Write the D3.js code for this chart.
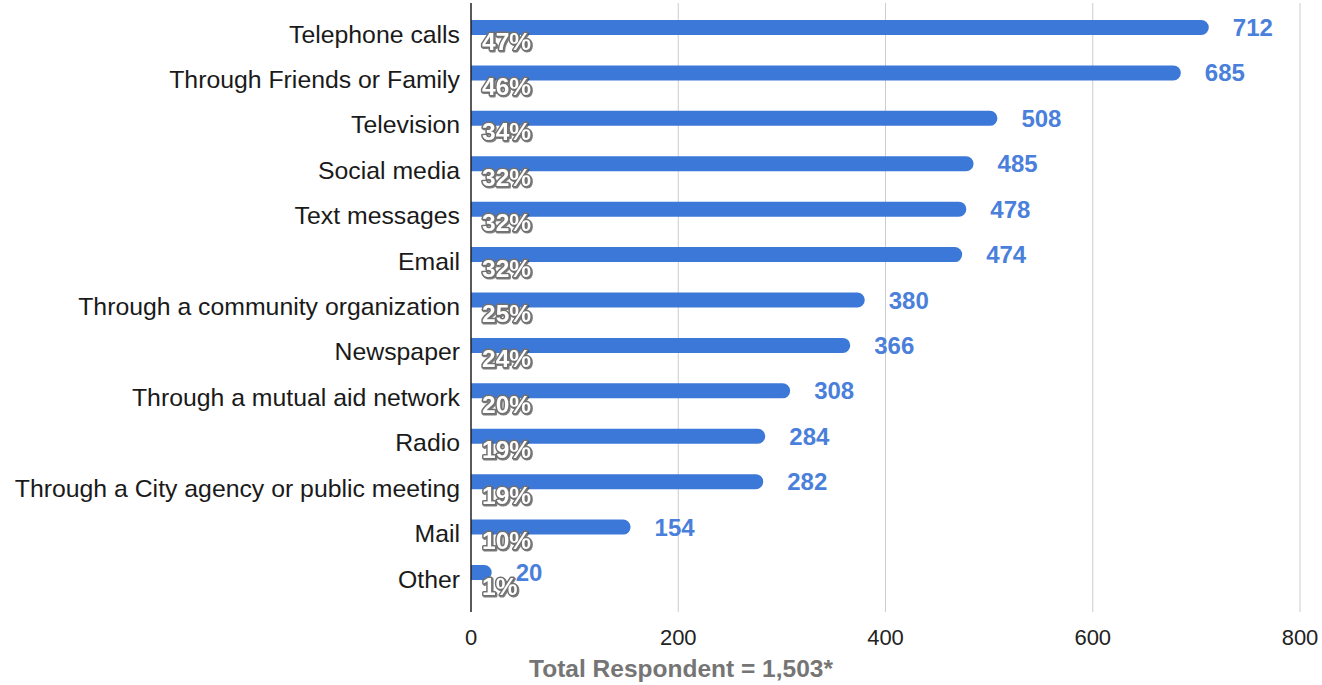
<!DOCTYPE html>
<html>
<head>
<meta charset="utf-8">
<script src="https://cdn.jsdelivr.net/npm/d3@7"></script>
<style>
  html, body { margin: 0; padding: 0; background: #fff; }
  svg { display: block; font-family: Arial, "Liberation Sans", Helvetica, sans-serif; }
</style>
</head>
<body>
<svg id="chart" width="1322" height="685"></svg>
<script>
// How respondents receive information
const categories = [
  "Telephone calls",
  "Through Friends or Family",
  "Television",
  "Social media",
  "Text messages",
  "Email",
  "Through a community organization",
  "Newspaper",
  "Through a mutual aid network",
  "Radio",
  "Through a City agency or public meeting",
  "Mail",
  "Other"
];
const counts = [712, 685, 508, 485, 478, 474, 380, 366, 308, 284, 282, 154, 20];
const percents = ["47%", "46%", "34%", "32%", "32%", "32%", "25%", "24%", "20%", "19%", "19%", "10%", "1%"];
const xTicks = [0, 200, 400, 600, 800];
const axisTitle = "Total Respondent = 1,503*";

const svg = d3.select("#chart");
const plotTop = 3, plotBottom = 612;
const x = d3.scaleLinear().domain([0, 800]).range([471, 1300]);
const y = d3.scalePoint().domain(categories).range([27.5, 572.5]);

const barColor = "#3c78d8";
const barH = 15;

// vertical gridlines
svg.append("g")
  .selectAll("line")
  .data(xTicks.filter(d => d > 0))
  .join("line")
  .attr("x1", d => x(d)).attr("x2", d => x(d))
  .attr("y1", plotTop).attr("y2", plotBottom)
  .attr("stroke", "#cccccc")
  .attr("stroke-width", 1);

// tick labels
svg.append("g")
  .selectAll("text")
  .data(xTicks)
  .join("text")
  .attr("x", d => x(d))
  .attr("y", 645)
  .attr("text-anchor", "middle")
  .attr("font-size", 22)
  .attr("fill", "#222")
  .text(d => d);

// axis title
svg.append("text")
  .attr("x", 681)
  .attr("y", 677)
  .attr("text-anchor", "middle")
  .attr("font-size", 24.5)
  .attr("font-weight", "bold")
  .attr("fill", "#757575")
  .text(axisTitle);

// bars with rounded right end
function barPath(v, cy) {
  const x0 = x(0), x1 = x(v);
  const top = cy - barH / 2, bot = cy + barH / 2;
  const r = Math.min(barH / 2, (x1 - x0) / 2);
  return `M${x0},${top} H${x1 - r} A${r},${r} 0 0 1 ${x1},${top + r} V${bot - r} A${r},${r} 0 0 1 ${x1 - r},${bot} H${x0} Z`;
}

svg.append("g")
  .selectAll("path")
  .data(categories)
  .join("path")
  .attr("d", (c, i) => barPath(counts[i], y(c)))
  .attr("fill", barColor);

// category labels
svg.append("g")
  .selectAll("text")
  .data(categories)
  .join("text")
  .attr("x", 460)
  .attr("y", c => y(c) + 15)
  .attr("text-anchor", "end")
  .attr("font-size", 24.8)
  .attr("fill", "#1a1a1a")
  .text(c => c);

// value labels
svg.append("g")
  .selectAll("text")
  .data(categories)
  .join("text")
  .attr("x", (c, i) => x(counts[i]) + 24)
  .attr("y", c => y(c) + 8.5)
  .attr("font-size", 24)
  .attr("font-weight", "bold")
  .attr("fill", "#4a7fdb")
  .text((c, i) => counts[i]);

// axis line
svg.append("line")
  .attr("x1", x(0)).attr("x2", x(0))
  .attr("y1", plotTop).attr("y2", plotBottom)
  .attr("stroke", "#222")
  .attr("stroke-width", 1.5);

// percentage labels: white text with grey outline
const defs = svg.append("defs");
const f = defs.append("filter").attr("id", "shadow").attr("x", "-10%").attr("y", "-10%").attr("width", "130%").attr("height", "140%");
f.append("feDropShadow").attr("dx", 1).attr("dy", 1).attr("stdDeviation", 0.6).attr("flood-color", "#444").attr("flood-opacity", 0.7);

svg.append("g")
  .attr("filter", "url(#shadow)")
  .selectAll("text")
  .data(categories)
  .join("text")
  .attr("x", 482)
  .attr("y", c => y(c) + 22)
  .attr("font-size", 24.5)
  .attr("font-weight", "bold")
  .attr("fill", "#ffffff")
  .attr("stroke", "#707070")
  .attr("stroke-width", 3)
  .attr("stroke-linejoin", "round")
  .attr("paint-order", "stroke")
  .text((c, i) => percents[i]);
</script>
</body>
</html>
